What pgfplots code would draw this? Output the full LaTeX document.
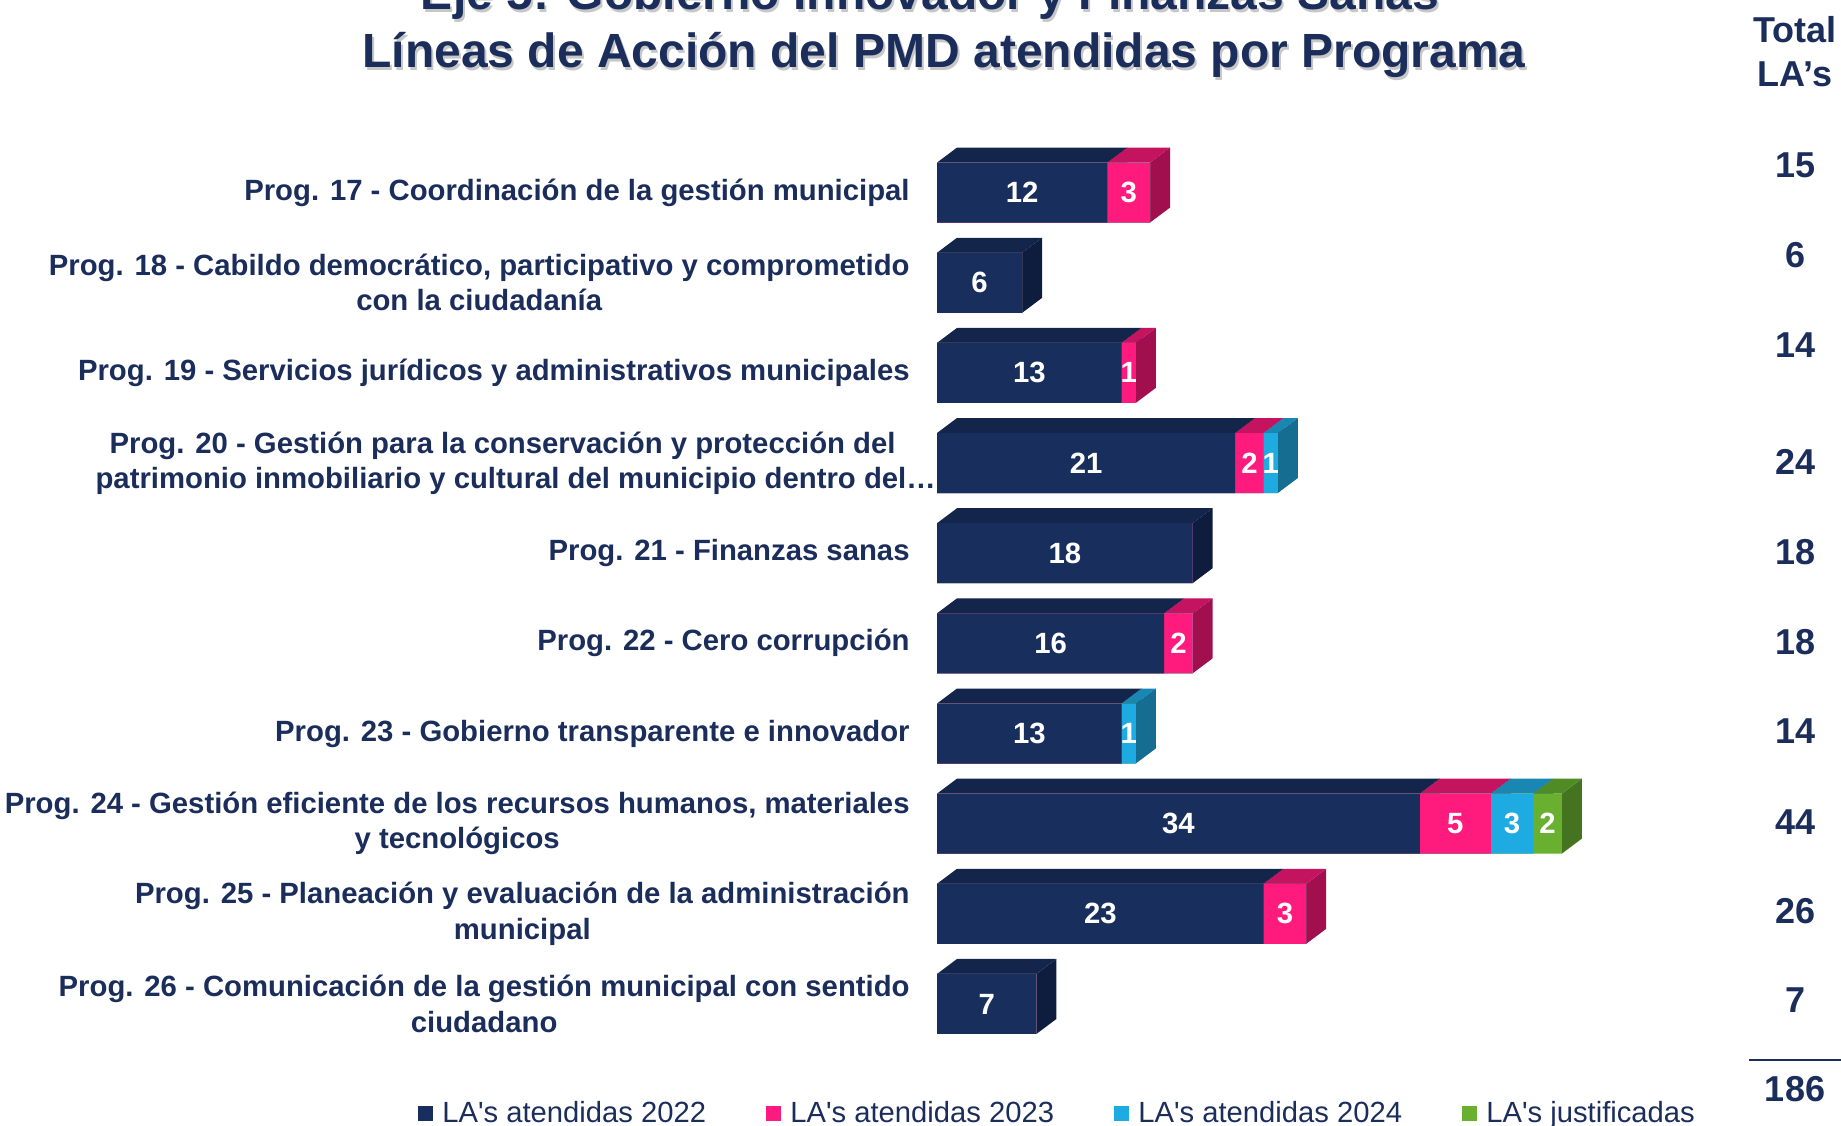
\documentclass[border=0pt]{standalone}
\usepackage{pgfplots}
\pgfplotsset{compat=1.18}
\usepackage{pgfplotstable}
\usepackage{fontspec}
\newfontfamily\lsans{Liberation Sans}

\definecolor{txt}{HTML}{1B2D5B}
\definecolor{nF}{HTML}{182F5E}
\definecolor{nT}{HTML}{13254A}
\definecolor{nS}{HTML}{0E1D3D}
\definecolor{pF}{HTML}{FF1A7E}
\definecolor{pT}{HTML}{C4135F}
\definecolor{pS}{HTML}{A10F4F}
\definecolor{bF}{HTML}{1EABE1}
\definecolor{bT}{HTML}{1A86B2}
\definecolor{bS}{HTML}{166D92}
\definecolor{gF}{HTML}{69B030}
\definecolor{gT}{HTML}{508B25}
\definecolor{gS}{HTML}{44741F}

\pgfdeclareplotmark{topface}{%
  \ifdim\pgfplotmarksize>0.01pt
    \pgfpathmoveto{\pgfqpoint{0pt}{15pt}}%
    \pgfpathlineto{\pgfpoint{\pgfplotmarksize}{15pt}}%
    \pgfpathlineto{\pgfpoint{\pgfplotmarksize+10pt}{22.5pt}}%
    \pgfpathlineto{\pgfqpoint{10pt}{22.5pt}}%
    \pgfpathclose
    \pgfusepathqfill
  \fi}
\pgfdeclareplotmark{sideface}{%
  \ifdim\pgfplotmarksize>0.01pt
    \pgfpathmoveto{\pgfqpoint{0pt}{-15pt}}%
    \pgfpathlineto{\pgfqpoint{0pt}{15pt}}%
    \pgfpathlineto{\pgfqpoint{10pt}{22.5pt}}%
    \pgfpathlineto{\pgfqpoint{10pt}{-7.5pt}}%
    \pgfpathclose
    \pgfusepathqfill
  \fi}

\pgfplotstableread{
y a  b c d
0 12 3 0 0
1 6  0 0 0
2 13 1 0 0
3 21 2 1 0
4 18 0 0 0
5 16 2 0 0
6 13 0 1 0
7 34 5 3 2
8 23 3 0 0
9 7  0 0 0
}\datatable

\pgfplotsset{
  front/.style={xbar, bar width=30pt, bar shift=0pt, draw=none, fill=#1, forget plot},
  face/.style n args={3}{scatter, only marks, mark=#1, forget plot,
    point meta=\thisrow{y},
    scatter/use mapped color={draw=none, fill=#2},
    visualization depends on={#3 \as \segw},
    scatter/@pre marker code/.append style={/tikz/mark size=\segw}},
  lab/.style={forget plot, draw=none, mark=none,
    point meta=explicit symbolic,
    nodes near coords={\ifnum\pgfplotspointmeta>0 \pgfplotspointmeta\fi},
    every node near coord/.append style={anchor=center, text=white,
      font=\lsans\bfseries\fontsize{14.65}{16}\selectfont}},
}

\begin{document}
\begin{tikzpicture}
\path[use as bounding box] (0,0) rectangle (920.5pt,-562.5pt);
\clip (0,0) rectangle (920.5pt,-562.5pt);

\begin{scope}[x=0.5pt,y=-0.5pt]
  % title with shadow
  \node[anchor=base, text=black!22, font=\lsans\bfseries\fontsize{24}{29}\selectfont] at (932,12) {Eje 5: Gobierno Innovador y Finanzas Sanas};
  \node[anchor=base, text=txt, font=\lsans\bfseries\fontsize{24}{29}\selectfont] at (930,9) {Eje 5: Gobierno Innovador y Finanzas Sanas};
  \node[anchor=base, text=black!22, font=\lsans\bfseries\fontsize{24}{29}\selectfont] at (946,70) {Líneas de Acción del PMD atendidas por Programa};
  \node[anchor=base, text=txt, font=\lsans\bfseries\fontsize{24}{29}\selectfont] at (944,67) {Líneas de Acción del PMD atendidas por Programa};
  % totals column
  \begin{scope}[every node/.style={anchor=base, text=txt, font=\lsans\bfseries\fontsize{18}{21}\selectfont, inner sep=0pt}]
    \node at (1795,42) {Total};
    \node at (1795,86) {LA’s};
    \node at (1795,177) {15};
    \node at (1795,267) {6};
    \node at (1795,357) {14};
    \node at (1795,474) {24};
    \node at (1795,564) {18};
    \node at (1795,654) {18};
    \node at (1795,743) {14};
    \node at (1795,834) {44};
    \node at (1795,923) {26};
    \node at (1795,1012) {7};
    \node at (1795,1101) {186};
  \end{scope}
  \draw[txt, line width=0.8pt] (1749,1060) -- (1841,1060);
\end{scope}

\begin{axis}[
  at={(468.5pt,-69.25pt)}, anchor=north west,
  x=7.1pt, y=45.075pt, y dir=reverse,
  xmin=0, xmax=50, ymin=-0.6, ymax=9.6,
  axis lines=left, axis line style={draw=none}, tick style={draw=none},
  major tick length=0pt,
  xtick=\empty, ytick={0,1,2,3,4,5,6,7,8,9},
  yticklabels={
    {Prog. 17 - Coordinación de la gestión municipal},
    {Prog. 18 - Cabildo democrático, participativo y comprometido\\con la ciudadanía},
    {Prog. 19 - Servicios jurídicos y administrativos municipales},
    {Prog. 20 - Gestión para la conservación y protección del\\patrimonio inmobiliario y cultural del municipio dentro del…\hspace*{-13pt}},
    {Prog. 21 - Finanzas sanas},
    {Prog. 22 - Cero corrupción},
    {Prog. 23 - Gobierno transparente e innovador},
    {Prog. 24 - Gestión eficiente de los recursos humanos, materiales\\y tecnológicos},
    {Prog. 25 - Planeación y evaluación de la administración\\municipal},
    {Prog. 26 - Comunicación de la gestión municipal con sentido\\ciudadano}},
  yticklabel style={align=center, anchor=east, inner sep=0pt, xshift=-13.5pt,
    text=txt, font=\lsans\bfseries\fontsize{14.65}{17.6}\selectfont},
  clip=false, clip marker paths=true,
  legend columns=4,
  legend style={at={(axis description cs:-0.731,-0.0598)}, anchor=west, draw=none, fill=none, inner sep=0pt,
    column sep=4.5pt, nodes={inner sep=0pt},
    font=\lsans\fontsize{14.6}{17}\selectfont, text=txt},
  legend image code/.code={\fill[#1] (0pt,-3.75pt) rectangle (7.5pt,3.75pt);},
]
% side faces (drawn first)
\addplot[face={sideface}{nS}{\thisrow{a}}] table[x expr=\thisrow{a}, y=y]{\datatable};
\addplot[face={sideface}{pS}{\thisrow{b}}] table[x expr=\thisrow{a}+\thisrow{b}, y=y]{\datatable};
\addplot[face={sideface}{bS}{\thisrow{c}}] table[x expr=\thisrow{a}+\thisrow{b}+\thisrow{c}, y=y]{\datatable};
\addplot[face={sideface}{gS}{\thisrow{d}}] table[x expr=\thisrow{a}+\thisrow{b}+\thisrow{c}+\thisrow{d}, y=y]{\datatable};
% top faces
\addplot[face={topface}{nT}{\thisrow{a}*7.1}] table[x expr=0, y=y]{\datatable};
\addplot[face={topface}{pT}{\thisrow{b}*7.1}] table[x expr=\thisrow{a}, y=y]{\datatable};
\addplot[face={topface}{bT}{\thisrow{c}*7.1}] table[x expr=\thisrow{a}+\thisrow{b}, y=y]{\datatable};
\addplot[face={topface}{gT}{\thisrow{d}*7.1}] table[x expr=\thisrow{a}+\thisrow{b}+\thisrow{c}, y=y]{\datatable};
% front faces (cumulative, longest first)
\addplot[front=gF] table[x expr=\thisrow{a}+\thisrow{b}+\thisrow{c}+\thisrow{d}, y=y]{\datatable};
\addplot[front=bF] table[x expr=\thisrow{a}+\thisrow{b}+\thisrow{c}, y=y]{\datatable};
\addplot[front=pF] table[x expr=\thisrow{a}+\thisrow{b}, y=y]{\datatable};
\addplot[front=nF] table[x=a, y=y]{\datatable};
% value labels
\addplot[lab] table[x expr=\thisrow{a}/2, y=y, meta=a]{\datatable};
\addplot[lab] table[x expr=\thisrow{a}+\thisrow{b}/2, y=y, meta=b]{\datatable};
\addplot[lab] table[x expr=\thisrow{a}+\thisrow{b}+\thisrow{c}/2, y=y, meta=c]{\datatable};
\addplot[lab] table[x expr=\thisrow{a}+\thisrow{b}+\thisrow{c}+\thisrow{d}/2, y=y, meta=d]{\datatable};
% legend
\addlegendimage{fill=nF, draw=none}
\addlegendentry{\makebox[157.5pt][l]{LA's atendidas 2022}}
\addlegendimage{fill=pF, draw=none}
\addlegendentry{\makebox[157.5pt][l]{LA's atendidas 2023}}
\addlegendimage{fill=bF, draw=none}
\addlegendentry{\makebox[157.5pt][l]{LA's atendidas 2024}}
\addlegendimage{fill=gF, draw=none}
\addlegendentry{LA's justificadas}
\end{axis}
\end{tikzpicture}
\end{document}
